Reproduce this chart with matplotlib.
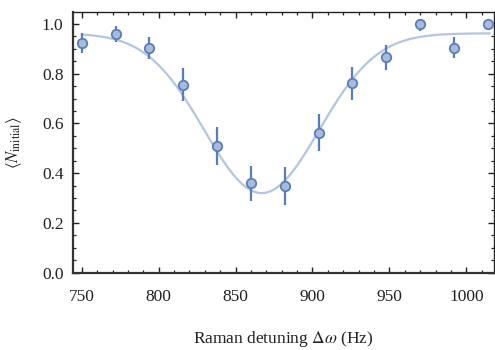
import numpy as np
import matplotlib
matplotlib.use("Agg")
import matplotlib.pyplot as plt
from matplotlib.ticker import MultipleLocator

# Data
detuning = [750, 772, 794, 816, 838, 860, 882, 904, 926, 948, 970, 992, 1014]
n_initial = [0.925, 0.961, 0.902, 0.756, 0.510, 0.359, 0.348, 0.563, 0.761, 0.866, 1.0, 0.905, 1.0]
err_low = [0.040, 0.032, 0.045, 0.065, 0.076, 0.070, 0.075, 0.074, 0.066, 0.051, 0.028, 0.044, 0.025]
err_high = [0.040, 0.032, 0.045, 0.065, 0.076, 0.070, 0.075, 0.074, 0.066, 0.051, 0.0, 0.044, 0.0]

# Gaussian fit parameters (dip)
fit_offset = 0.962
fit_depth = 0.642
fit_center = 867.0
fit_sigma = 37.3
fit_range = (750, 1015)

plt.rcParams['font.family'] = ['Liberation Serif', 'DejaVu Serif']
plt.rcParams['mathtext.fontset'] = 'stix'

fig = plt.figure(figsize=(4.95, 3.5), dpi=100)
ax = fig.add_axes([73.3/495, 1-272.7/350, (494-73.3)/495, (272.7-11.7)/350])

xf = np.linspace(fit_range[0], fit_range[1], 400)
yf = fit_offset - fit_depth*np.exp(-(xf-fit_center)**2/(2*fit_sigma**2))
ax.plot(xf, yf, color='#b3c5e0', lw=1.6, zorder=1)

ax.errorbar(detuning, n_initial, yerr=[err_low, err_high], fmt='o', ms=6.8,
            mfc='#a7bbdb', mec='#5a7db5', mew=1.3, ecolor='#5a7db5', elinewidth=1.6,
            capsize=0, zorder=3, clip_on=False)

ax.set_xlim(744.5, 1018)
ax.set_ylim(0, 1.049)
ax.xaxis.set_major_locator(MultipleLocator(50))
ax.xaxis.set_minor_locator(MultipleLocator(10))
ax.yaxis.set_major_locator(MultipleLocator(0.2))
ax.yaxis.set_minor_locator(MultipleLocator(0.05))
ax.yaxis.set_major_formatter(matplotlib.ticker.FormatStrFormatter('%.1f'))
ax.tick_params(which='both', direction='in', top=True, right=True, colors='#222222',
               labelcolor='#222222', labelsize=12.5)
ax.tick_params(which='major', length=4.5, width=1.0)
ax.tick_params(axis='x', which='major', pad=12)
ax.tick_params(axis='y', which='major', pad=7)
ax.tick_params(which='minor', length=2.5, width=0.9)
for s in ['left', 'bottom']:
    ax.spines[s].set_linewidth(1.6)
    ax.spines[s].set_color('#333333')
for s in ['top', 'right']:
    ax.spines[s].set_linewidth(1.0)
    ax.spines[s].set_color('#222222')

ax.set_xlabel(r'Raman detuning $\Delta\omega$ (Hz)', fontsize=12.5, labelpad=17, color='#222222')
ax.set_ylabel(r'$\langle N_{\mathrm{initial}}\rangle$', fontsize=12, labelpad=13, color='#222222')

fig.savefig('out.png', dpi=100)
